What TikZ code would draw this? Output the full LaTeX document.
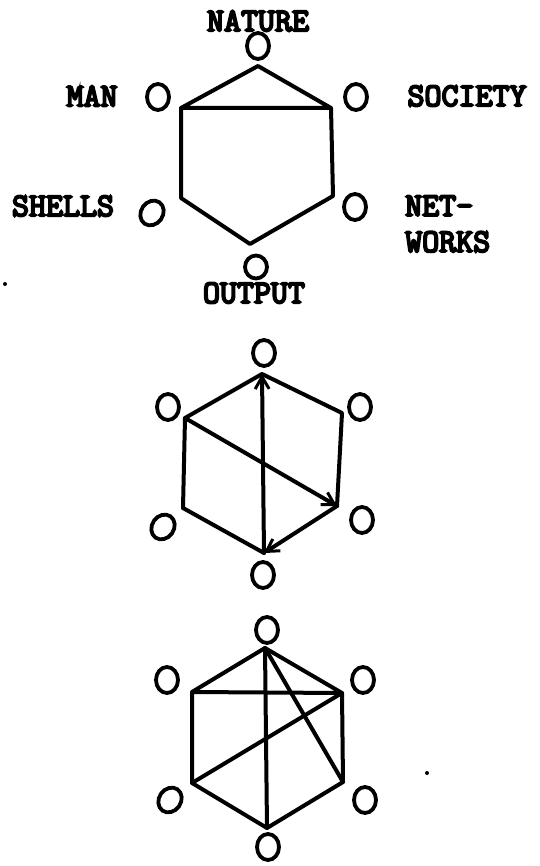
\documentclass[tikz,border=0pt]{standalone}
\usepackage{fontspec}
\usetikzlibrary{arrows.meta,shapes.geometric}
\newfontfamily\tw{Latin Modern Mono}[FakeBold=6]
\begin{document}
\begin{tikzpicture}[x=1pt,y=-1pt,
 vtx/.style={draw,ellipse,line width=3.8pt,minimum width=22pt,minimum height=26pt,inner sep=0pt},
 edge/.style={line width=4pt,line cap=round,line join=round},
 arr/.style={edge,-{Straight Barb[length=12pt,width=14pt,line width=3pt]}},
 lbl/.style={font=\tw\fontsize{33}{36}\selectfont,inner sep=0pt},
 speck/.style={fill=black,circle,inner sep=0pt,minimum size=4pt}]
\useasboundingbox (0,0) rectangle (539,866);
% ---------- top diagram ----------
\coordinate (A1) at (258,66);
\coordinate (B1) at (181,108);
\coordinate (C1) at (331,108);
\coordinate (D1) at (181,198);
\coordinate (E1) at (333,196);
\coordinate (F1) at (250,244);
\draw[edge] (B1) -- (A1) -- (C1) -- (B1) -- (D1) -- (F1) -- (E1) -- (C1);
\node[vtx] (n1) at (258,46) {};
\node[vtx] (m1) at (158,97) {};
\node[vtx] (s1) at (356,97) {};
\node[vtx,rotate=-35] (h1) at (152,213) {};
\node[vtx] (w1) at (355,207) {};
\node[vtx,minimum height=23pt] (o1) at (256,267) {};
\node[lbl] (tNature) at (258,21) {NATURE};
\node[lbl] (tMan) at (92,96) {MAN};
\node[lbl] (tSociety) at (467,96) {SOCIETY};
\node[lbl] (tShells) at (63,206) {SHELLS};
\node[lbl,align=left,anchor=west] (tNet) at (405,224) {NET-\\WORKS};
\node[lbl] (tOutput) at (254,293) {OUTPUT};
% ---------- middle diagram ----------
\coordinate (A2) at (262,374);
\coordinate (B2) at (185,418);
\coordinate (C2) at (342,413);
\coordinate (D2) at (183,508);
\coordinate (E2) at (337,506);
\coordinate (F2) at (264,553);
\draw[edge] (D2) -- (B2) -- (A2) -- (C2) -- (E2);
\draw[edge] (D2) -- (F2);
\draw[arr] (B2) -- (E2);
\draw[arr] (E2) -- (F2);
\draw[arr] (F2) -- (A2);
\node[vtx] (n2) at (264,353) {};
\node[vtx] (m2) at (168,407) {};
\node[vtx] (s2) at (360,407) {};
\node[vtx,rotate=-35] (h2) at (163,527) {};
\node[vtx] (w2) at (362,520) {};
\node[vtx] (o2) at (263,575) {};
% ---------- bottom diagram ----------
\coordinate (A3) at (265,648);
\coordinate (B3) at (192,692);
\coordinate (C3) at (342,693);
\coordinate (D3) at (192,783);
\coordinate (E3) at (343,782);
\coordinate (F3) at (267,828);
\draw[edge] (B3) -- (A3) -- (C3) -- (B3) -- (D3) -- (F3) -- (E3) -- (C3);
\draw[edge] (A3) -- (F3);
\draw[edge] (A3) -- (E3);
\draw[edge] (D3) -- (C3);
\node[vtx] (n3) at (267,630) {};
\node[vtx] (m3) at (167,680) {};
\node[vtx] (s3) at (363,680) {};
\node[vtx,rotate=-35] (h3) at (170,800) {};
\node[vtx] (w3) at (365,800) {};
\node[vtx] (o3) at (268,847) {};
% specks
\node[speck] (sp1) at (5,284) {};
\node[speck] (sp2) at (427,773) {};
\end{tikzpicture}
\end{document}
